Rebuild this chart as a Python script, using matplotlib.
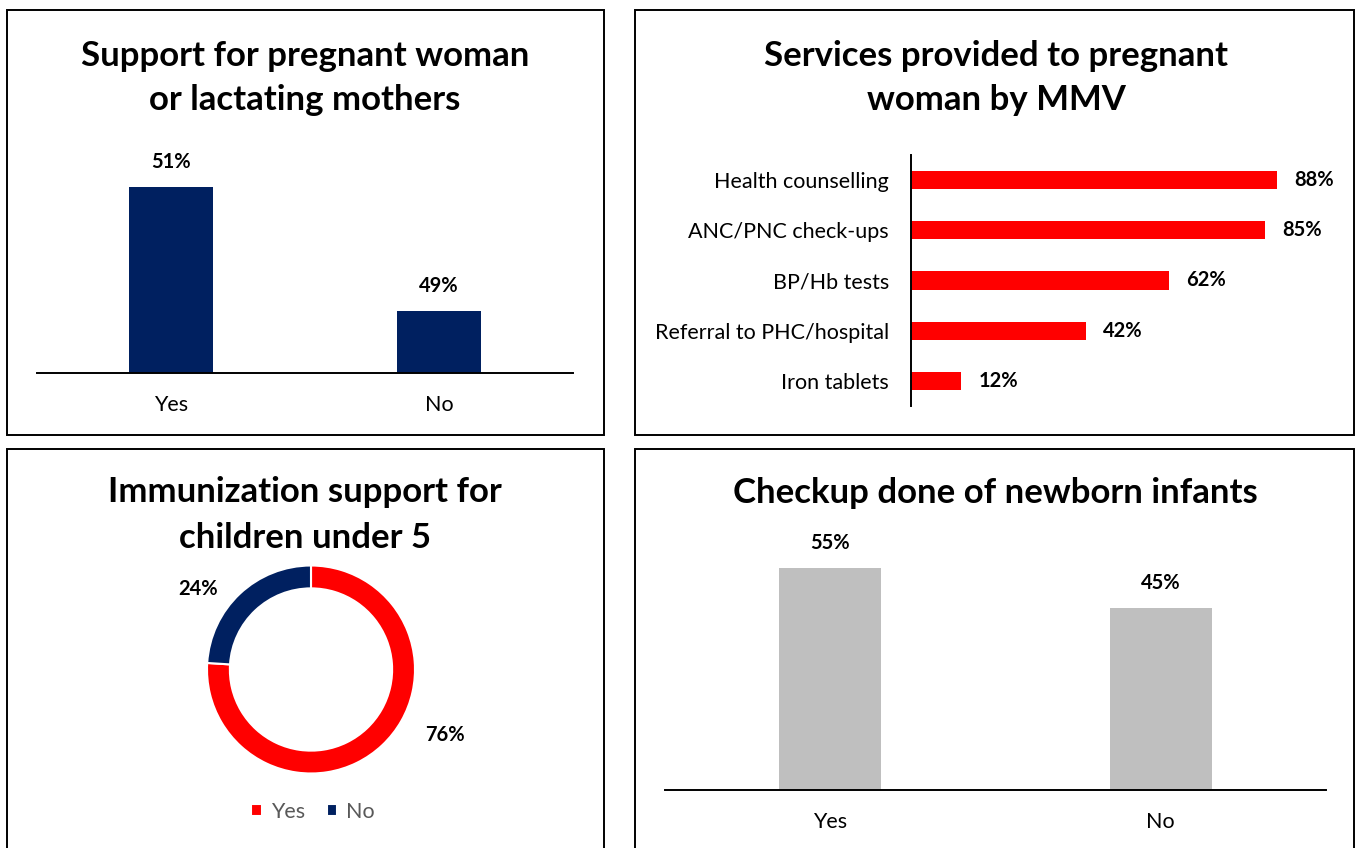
"""Four-panel summary of maternal and child health support delivered by MMV."""

import matplotlib

matplotlib.use("Agg")
import matplotlib.pyplot as plt
from matplotlib.patches import Rectangle

W, H = 1355, 848

support_labels = ["Yes", "No"]
support_values = [51, 49]

service_labels = ["Health counselling", "ANC/PNC check-ups", "BP/Hb tests",
                  "Referral to PHC/hospital", "Iron tablets"]
service_values = [88, 85, 62, 42, 12]

immunization_labels = ["Yes", "No"]
immunization_values = [76, 24]

checkup_labels = ["Yes", "No"]
checkup_values = [55, 45]

NAVY = "#002060"
RED = "#FF0000"
GREY = "#BFBFBF"
TITLE_SIZE = 25
TEXT_SIZE = 15.5
VALUE_SIZE = 14.5

plt.rcParams["font.family"] = ["Lato", "DejaVu Sans"]


def px_axes(fig, x0, y0, x1, y1):
    # axes placed by pixel box, y measured from the top of the figure
    return fig.add_axes([x0 / W, 1 - y1 / H, (x1 - x0) / W, (y1 - y0) / H])


def panel_box(fig, x0, y0, x1, y1):
    fig.add_artist(Rectangle((x0 / W, 1 - y1 / H), (x1 - x0) / W, (y1 - y0) / H,
                             transform=fig.transFigure, fill=False,
                             edgecolor="black", linewidth=1.4))


def title(fig, x, y, text):
    fig.text(x / W, 1 - y / H, text, ha="center", va="center",
             fontsize=TITLE_SIZE, fontweight="bold", linespacing=1.5)


def column_chart(ax, labels, values, color, ylim):
    positions = range(len(values))
    ax.bar(positions, values, width=0.31, color=color)
    ax.set_xlim(-0.5, len(values) - 0.5)
    ax.set_ylim(*ylim)
    ax.set_xticks(list(positions), labels)
    ax.set_yticks([])
    for side in ("top", "right", "left"):
        ax.spines[side].set_visible(False)
    ax.spines["bottom"].set_linewidth(1.4)
    ax.tick_params(axis="x", length=0, pad=16, labelsize=TEXT_SIZE)
    for pos, value in zip(positions, values):
        ax.annotate(f"{value}%", (pos, value), xytext=(0, 18), textcoords="offset points",
                    ha="center", va="center", fontsize=VALUE_SIZE, fontweight="bold")


fig = plt.figure(figsize=(W / 100, H / 100), dpi=100)
fig.patch.set_facecolor("white")

panel_box(fig, 7, 10, 604, 435)
panel_box(fig, 635, 10, 1354, 435)
panel_box(fig, 7, 449, 604, 870)
panel_box(fig, 635, 449, 1354, 870)

# support for pregnant / lactating mothers (value axis does not start at zero)
title(fig, 305, 78, "Support for pregnant woman\nor lactating mothers")
ax1 = px_axes(fig, 37, 140, 573, 373)
column_chart(ax1, support_labels, support_values, NAVY, (48, 48 + 233 / 62))

# services provided by MMV
title(fig, 996, 78, "Services provided to pregnant\nwoman by MMV")
ax2 = px_axes(fig, 911, 155, 1340, 406)
rows = range(len(service_values))
ax2.barh(list(rows), service_values, height=0.36, color=RED)
ax2.set_ylim(len(service_values) - 0.5, -0.5)
ax2.set_xlim(0, 429 / 4.16)
ax2.set_yticks(list(rows), service_labels)
ax2.set_xticks([])
for side in ("top", "right", "bottom"):
    ax2.spines[side].set_visible(False)
ax2.spines["left"].set_linewidth(1.4)
ax2.tick_params(axis="y", length=0, pad=16, labelsize=TEXT_SIZE)
for row, value in zip(rows, service_values):
    ax2.annotate(f"{value}%", (value, row), xytext=(12.5, 0), textcoords="offset points",
                 ha="left", va="center", fontsize=VALUE_SIZE, fontweight="bold")

# immunization donut
title(fig, 305, 515, "Immunization support for\nchildren under 5")
cx, cy, r = 311, 669.5, 104
ax3 = px_axes(fig, cx - r - 6, cy - r - 6, cx + r + 6, cy + r + 6)
wedges, _ = ax3.pie(immunization_values, colors=[RED, NAVY], startangle=90,
                    counterclock=False, radius=1,
                    wedgeprops=dict(width=0.22, edgecolor="white", linewidth=1.5))
ax3.set_xlim(-(r + 6) / r, (r + 6) / r)
ax3.set_ylim(-(r + 6) / r, (r + 6) / r)
ax3.set_aspect("equal")
label_spots = [(1.29, -0.63), (-1.09, 0.77)]
for (lx, ly), value in zip(label_spots, immunization_values):
    ax3.text(lx, ly, f"{value}%", ha="center", va="center",
             fontsize=VALUE_SIZE, fontweight="bold")
fig.legend(wedges, immunization_labels, loc="center", bbox_to_anchor=(313 / W, 1 - 812 / H),
           ncol=2, frameon=False, fontsize=TEXT_SIZE, handlelength=0.5, handleheight=0.5,
           handletextpad=0.4, columnspacing=1.0, labelcolor="#595959")

# newborn checkups
title(fig, 995, 493, "Checkup done of newborn infants")
ax4 = px_axes(fig, 665, 540, 1326, 790)
column_chart(ax4, checkup_labels, checkup_values, GREY, (0, 250 / 4.036))

fig.savefig("out.png", dpi=100)
